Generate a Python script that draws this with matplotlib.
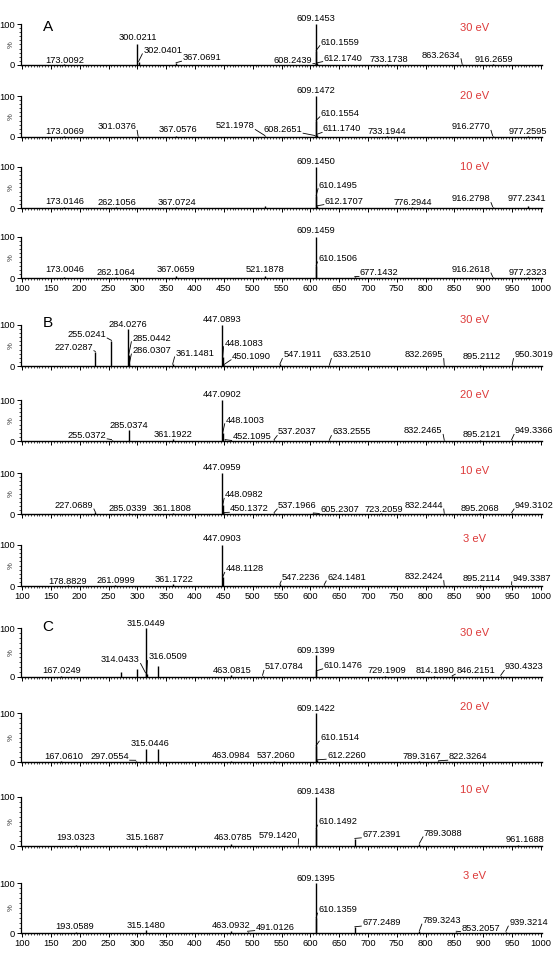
import matplotlib
matplotlib.use("Agg")
import matplotlib.pyplot as plt
from matplotlib.ticker import MultipleLocator, FixedLocator, NullFormatter

plt.rcParams['font.family'] = ['Liberation Sans', 'DejaVu Sans']

# ---------------- data (m/z, relative intensity %) ----------------
# label placement lists: (label x in m/z, label y in %, alignment) ; None = unlabelled peak
A30_mz = [173.0092, 300.0211, 302.0401, 367.0691, 608.2439, 609.1453, 610.1559, 612.1740, 733.1738, 863.2634, 916.2659]
A30_int = [3, 52, 8, 5, 3, 100, 35, 5, 2, 3, 2]
A30_lab = [(173, 12, 'c'), (300, 66, 'c'), (310, 36, 'l'), (378, 18, 'l'), (603, 12, 'r'), (609, 114, 'c'),
           (618, 56, 'l'), (623, 17, 'l'), (737, 13, 'c'), (860, 24, 'r'), (919, 13, 'c')]

A20_mz = [173.0069, 301.0376, 367.0576, 521.1978, 608.2651, 609.1472, 610.1554, 611.1740, 733.1944, 916.2770, 977.2595]
A20_int = [2, 3, 3, 3, 3, 100, 40, 6, 2, 3, 2]
A20_lab = [(174, 13, 'c'), (298, 25, 'r'), (370, 18, 'c'), (503, 27, 'r'), (586, 18, 'r'), (609, 114, 'c'),
           (618, 58, 'l'), (622, 20, 'l'), (733, 13, 'c'), (912, 25, 'r'), (978, 13, 'c')]

A10_mz = [173.0146, 262.1056, 367.0724, 521.2, 609.1450, 610.1495, 612.1707, 776.2944, 916.2798, 977.2341]
A10_int = [2, 2, 3, 6, 100, 30, 5, 2, 3, 5]
A10_lab = [(174, 17, 'c'), (265, 14, 'c'), (368, 14, 'c'), None, (609, 114, 'c'), (615, 56, 'l'),
           (625, 17, 'l'), (777, 14, 'c'), (912, 22, 'r'), (976, 22, 'c')]

A4_mz = [173.0046, 262.1064, 367.0659, 521.1878, 609.1459, 610.1506, 677.1432, 916.2618, 977.2323]
A4_int = [3, 2, 4, 5, 100, 30, 3, 3, 3]
A4_lab = [(173, 21, 'c'), (262, 12.5, 'c'), (367, 21, 'c'), (521, 21, 'c'), (609, 115, 'c'), (614, 48, 'l'),
          (686, 12.5, 'l'), (912, 21, 'r'), (978, 12.5, 'c')]

B30_mz = [227.0287, 255.0241, 284.0276, 285.0442, 286.0307, 361.1481, 447.0893, 448.1083, 450.1090,
          547.1911, 633.2510, 832.2695, 895.2112, 950.3019]
B30_int = [35, 62, 90, 28, 6, 4, 100, 22, 3, 4, 3, 3, 2, 3]
B30_lab = [(223, 46, 'r'), (246, 77, 'r'), (284, 102, 'c'), (291, 68, 'l'), (291, 38, 'l'), (366, 31, 'l'),
           (447, 114, 'c'), (451, 56, 'l'), (464, 24, 'l'), (553, 27, 'l'), (638, 27, 'l'), (830, 27, 'r'),
           (898, 24, 'c'), (954, 27, 'l')]

B20_mz = [255.0372, 285.0374, 361.1922, 447.0902, 448.1003, 452.1095, 537.2037, 633.2555, 832.2465, 895.2121, 949.3366]
B20_int = [3, 28, 4, 100, 20, 3, 3, 3, 3, 3, 3]
B20_lab = [(246, 14, 'r'), (285, 38, 'c'), (361, 16, 'c'), (447, 114, 'c'), (453, 51, 'l'), (465, 10, 'l'),
           (544, 22, 'l'), (638, 22, 'l'), (829, 25, 'r'), (898, 16, 'c'), (955, 25, 'l')]

B10_mz = [227.0689, 285.0339, 361.1808, 447.0959, 448.0982, 450.1372, 537.1966, 605.2307, 723.2059,
          832.2444, 895.2068, 949.3102]
B10_int = [4, 3, 3, 100, 22, 3, 3, 2, 2, 3, 2, 3]
B10_lab = [(223, 21, 'r'), (283, 13, 'c'), (360, 13, 'c'), (447, 113, 'c'), (452, 47, 'l'), (461, 13, 'l'),
           (544, 21, 'l'), (617, 10, 'l'), (728, 10, 'c'), (830, 21, 'r'), (895, 13, 'c'), (955, 21, 'l')]

B3_mz = [178.8829, 261.0999, 361.1722, 447.0903, 448.1128, 547.2236, 624.1481, 832.2424, 895.2114, 949.3387]
B3_int = [2, 3, 4, 100, 22, 4, 3, 3, 2, 3]
B3_lab = [(178, 10, 'c'), (263, 14, 'c'), (363, 16, 'c'), (447, 115, 'c'), (453, 42, 'l'), (551, 21, 'l'),
          (629, 21, 'l'), (830, 22, 'r'), (898, 18, 'c'), (951, 19, 'l')]

C30_mz = [167.0249, 272.0, 299.0, 314.0433, 315.0449, 316.0509, 335.0, 463.0815, 517.0784, 609.1399,
          610.1476, 729.1909, 814.1890, 846.2151, 930.4323]
C30_int = [3, 11, 17, 8, 100, 6, 23, 4, 3, 45, 12, 2, 2, 2, 3]
C30_lab = [(168, 13, 'c'), None, None, (304, 35, 'r'), (315, 110, 'c'), (319, 41, 'l'), None, (464, 14, 'c'),
           (521, 21, 'l'), (609, 54, 'c'), (623, 24, 'l'), (733, 13, 'c'), (816, 13, 'c'), (853, 13, 'l'),
           (938, 21, 'l')]

C20_mz = [167.0610, 297.0554, 315.0446, 335.0, 463.0984, 537.2060, 609.1422, 610.1514, 612.2260, 789.3167, 822.3264]
C20_int = [2, 3, 27, 27, 3, 2, 100, 33, 4, 3, 2]
C20_lab = [(172, 12, 'c'), (285, 11, 'r'), (322, 38, 'c'), None, (462, 14, 'c'), (541, 13, 'c'), (609, 110, 'c'),
           (617, 50, 'l'), (629, 13, 'l'), (794, 12, 'c'), (840, 11, 'l')]

C10_mz = [193.0323, 315.1687, 463.0785, 579.1420, 609.1438, 610.1492, 677.2391, 789.3088, 961.1688]
C10_int = [3, 3, 4, 3, 100, 35, 15, 5, 2]
C10_lab = [(193, 17, 'c'), (313, 17, 'c'), (466, 18, 'c'), (578, 22, 'r'), (609, 111, 'c'), (614, 50, 'l'),
           (690, 24, 'l'), (797, 26, 'l'), (972, 13, 'c')]

C3_mz = [193.0589, 315.1480, 463.0932, 491.0126, 609.1395, 610.1359, 677.2489, 789.3243, 853.2057, 939.3214]
C3_int = [3, 6, 4, 3, 100, 30, 12, 4, 3, 3]
C3_lab = [(191, 13, 'c'), (315, 16, 'c'), (462, 16, 'c'), (505, 12, 'l'), (609, 110, 'c'), (614, 47, 'l'),
          (690, 21, 'l'), (795, 25, 'l'), (862, 10, 'l'), (945, 21, 'l')]

energies = ["30 eV", "20 eV", "10 eV", "", "30 eV", "20 eV", "10 eV", "3 eV", "30 eV", "20 eV", "10 eV", "3 eV"]
groups = ["A", "B", "C"]
x_ticks = list(range(100, 1001, 50))

# ---------------- layout ----------------
W, H = 553, 955
fig = plt.figure(figsize=(W / 100, H / 100), dpi=100)
AX_L, AX_W = 21, 521

spectra = [(A30_mz, A30_int, A30_lab), (A20_mz, A20_int, A20_lab), (A10_mz, A10_int, A10_lab),
           (A4_mz, A4_int, A4_lab),
           (B30_mz, B30_int, B30_lab), (B20_mz, B20_int, B20_lab), (B10_mz, B10_int, B10_lab),
           (B3_mz, B3_int, B3_lab),
           (C30_mz, C30_int, C30_lab), (C20_mz, C20_int, C20_lab), (C10_mz, C10_int, C10_lab),
           (C3_mz, C3_int, C3_lab)]
tops = [24, 96, 167, 237, 325, 400, 473, 545, 628, 713, 797, 883]
heights = [41, 41, 41, 41, 41, 41, 41, 41, 49, 49, 49, 50]
ev_y = [90, 100, 100, 0, 112, 112, 105, 115, 90, 112, 114, 115]
letter_y = [93, 105, 102]
RED = '#dd3a3a'
FS = 6.7

for i, (mz, inten, labs) in enumerate(spectra):
    top, h = tops[i], heights[i]
    ax = fig.add_axes([AX_L / W, 1 - (top + h) / H, AX_W / W, h / H])
    ax.set_xlim(98, 1002)
    ax.set_ylim(0, 100)
    for s in ['top', 'right']:
        ax.spines[s].set_visible(False)
    ax.spines['left'].set_bounds(0, 100)
    ax.spines['left'].set_linewidth(0.9)
    ax.spines['bottom'].set_linewidth(1.0)
    ax.xaxis.set_major_locator(FixedLocator(x_ticks))
    ax.xaxis.set_minor_locator(MultipleLocator(5))
    ax.yaxis.set_major_locator(FixedLocator([0, 100]))
    ax.yaxis.set_minor_locator(MultipleLocator(10))
    ax.tick_params(axis='both', which='major', direction='out', length=3.0, width=0.7, labelsize=FS, pad=1.2)
    ax.tick_params(axis='both', which='minor', direction='out', length=1.5, width=0.5)
    ax.set_yticklabels(["0", "100"])
    if i % 4 != 3:
        ax.xaxis.set_major_formatter(NullFormatter())
    ax.text(-0.019, 0.5, "%", transform=ax.transAxes, rotation=90, fontsize=5.5,
            ha='center', va='center', color='#333333')

    ax.vlines(mz, 0, inten, color='black', lw=1.0)

    half = 3.6 / h * 100
    for m, v, lab in zip(mz, inten, labs):
        if lab is None:
            continue
        lx, ly, al = lab
        ha = {'c': 'center', 'l': 'left', 'r': 'right'}[al]
        ax.text(lx, ly, f"{m:.4f}", ha=ha, va='center', fontsize=FS, clip_on=False)
        if al != 'c':
            ex = lx - 1.5 if al == 'l' else lx + 1.5
            ax.plot([m, ex], [v + 0.5, ly - half], color='black', lw=0.6, clip_on=False)

    if energies[i]:
        ax.text(885, ev_y[i], energies[i], color=RED, fontsize=8, ha='center', va='center', clip_on=False)
    if i % 4 == 0:
        ax.text(145, letter_y[i // 4], groups[i // 4], fontsize=11, ha='center', va='center', clip_on=False)

fig.savefig("out.png", dpi=100)
